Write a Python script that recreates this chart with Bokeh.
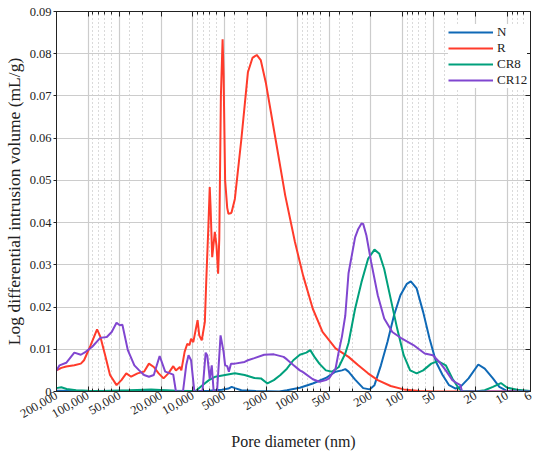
from bokeh.plotting import figure
from bokeh.models import (Range1d, FixedTicker, LogAxis, LinearAxis,
                          CustomJSTickFormatter, Legend, LegendItem)
from bokeh.embed import file_html
from bokeh.resources import INLINE

# ---------------- data ----------------
n_d = [200000, 100000, 20000, 10000, 7000, 5280, 4575, 4263, 3972, 3443, 2500, 1500,
       1266, 953, 717, 538, 435, 378, 351, 327, 283, 237, 206, 185, 160.5, 139, 120.5,
       104.6, 90.7, 83.2, 73.2, 63.4, 55.1, 47.8, 41.4, 35.9, 31.1, 28.0, 23.4, 18.9,
       16.4, 13.7, 11.9, 10.0, 8.0, 6.0]
n_v = [0.0002, 0.0001, 0.0002, 0.0001, 0.0002, 0.0004, 0.0007, 0.0011, 0.0008, 0.0003,
       0.0001, 0.0, 0.0003, 0.0009, 0.0019, 0.0032, 0.0047, 0.0050, 0.0053, 0.0047,
       0.0028, 0.0008, 0.0005, 0.0015, 0.0062, 0.0117, 0.0180, 0.0228, 0.0255, 0.0261,
       0.0244, 0.0188, 0.0125, 0.0070, 0.0039, 0.0015, 0.0007, 0.0011, 0.0031, 0.0064,
       0.0054, 0.0031, 0.0011, 0.0001, 0.0, 0.0]

r_d = [200000, 179800, 161500, 135200, 117200, 109200, 94600, 82000, 76400, 68680,
       61710, 53460, 48050, 43180, 38800, 33700, 29210, 26240, 23580, 21200, 19040,
       17120, 15380, 14500, 13300, 12880, 11980, 11300, 10760, 10400, 9900, 9347, 9012,
       8690, 8222, 7680, 7435, 7124, 6900, 6781, 6537, 6170, 5950, 5740, 5593, 5400,
       5201, 5091, 4920, 4700, 4575, 4350, 4263, 3972, 3443, 2983, 2700, 2457, 2250,
       2014, 1626, 1313, 1061, 888, 717, 579, 435, 327, 264, 213, 172, 129.6, 97.3,
       68.7, 50, 6]
r_v = [0.0050, 0.0056, 0.0059, 0.0062, 0.0066, 0.0074, 0.0109, 0.0147, 0.0130, 0.0086,
       0.0039, 0.0015, 0.0027, 0.0043, 0.0035, 0.0043, 0.0047, 0.0066, 0.0058, 0.0043,
       0.0031, 0.0043, 0.0060, 0.0050, 0.0058, 0.0050, 0.0094, 0.0113, 0.0110, 0.0125,
       0.0117, 0.0149, 0.0169, 0.0133, 0.0121, 0.0165, 0.0267, 0.0385, 0.0484, 0.0440,
       0.0318, 0.0378, 0.0346, 0.0279, 0.0362, 0.0700, 0.0834, 0.0750, 0.0500, 0.0435,
       0.0421, 0.0422, 0.0425, 0.0456, 0.0598, 0.0756, 0.0790, 0.0797, 0.0785, 0.0732,
       0.0598, 0.0464, 0.0354, 0.0275, 0.0196, 0.0141, 0.0102, 0.0082, 0.0062, 0.0043,
       0.0027, 0.0013, 0.0005, 0.0001, 0.0, 0.0]

cr8_d = [200000, 180000, 160000, 130000, 100000, 70000, 40000, 25000, 15000, 10000,
         9347, 8100, 7018, 6094, 4920, 3972, 3208, 2586, 2241, 1942, 1687, 1461, 1266,
         1100, 953, 826, 758, 691, 621, 538, 468, 405, 351, 327, 283, 246, 213, 185,
         166, 149.3, 129.6, 112.3, 97.3, 84.5, 73.2, 63.4, 53.1, 46.0, 38.6, 33.4, 29.0,
         27.0, 20.0, 16.4, 13.7, 11.5, 10.0, 8.04, 6.04]
cr8_v = [0.0008, 0.0010, 0.0006, 0.0003, 0.0002, 0.0001, 0.0003, 0.0005, 0.0002, 0.0001,
         0.0002, 0.0015, 0.0027, 0.0035, 0.0039, 0.0043, 0.0039, 0.0032, 0.0031, 0.0019,
         0.0027, 0.0039, 0.0054, 0.0074, 0.0087, 0.0092, 0.0098, 0.0082, 0.0066, 0.0050,
         0.0047, 0.0058, 0.0090, 0.0115, 0.0196, 0.0259, 0.0314, 0.0336, 0.0326, 0.0290,
         0.0220, 0.0149, 0.0086, 0.0050, 0.0043, 0.0050, 0.0066, 0.0072, 0.0062, 0.0031,
         0.0007, 0.0001, 0.0, 0.0003, 0.0011, 0.0020, 0.0009, 0.0004, 0.0001]

cr12_d = [200000, 187000, 161500, 135200, 117200, 105300, 91250, 76400, 66220, 59500,
          53460, 49830, 47030, 41730, 36150, 32500, 29210, 26240, 23580, 20740, 18360,
          16500, 15380, 14500, 12420, 11570, 11000, 10400, 9672, 8100, 7547, 7278, 6900,
          6600, 6330, 5876, 5440, 5091, 4920, 4700, 4530, 4327, 3972, 3208, 2983, 2586,
          2088, 1687, 1362, 1266, 1100, 953, 888, 717, 621, 538, 502, 435, 405, 378, 351,
          327, 283, 264, 246, 237, 221, 199, 172, 149.3, 125, 100.9, 78.6, 61.3, 51.2,
          44.5, 38.6, 33.4, 30.0, 28.0, 27.0, 6]
cr12_v = [0.0050, 0.0062, 0.0068, 0.0092, 0.0087, 0.0094, 0.0106, 0.0127, 0.0129, 0.0141,
          0.0163, 0.0157, 0.0158, 0.0098, 0.0062, 0.0050, 0.0039, 0.0035, 0.0039, 0.0084,
          0.0047, 0.0043, 0.0040, 0.0, 0.0, 0.0062, 0.0086, 0.0074, 0.0, 0.0, 0.0092,
          0.0085, 0.0030, 0.0062, 0.0, 0.0, 0.0133, 0.0094, 0.0062, 0.0060, 0.0047, 0.0066,
          0.0066, 0.0070, 0.0074, 0.0079, 0.0087, 0.0088, 0.0082, 0.0076, 0.0063, 0.0050,
          0.0046, 0.0029, 0.0023, 0.0027, 0.0031, 0.0054, 0.0095, 0.0130, 0.0180, 0.0280,
          0.0365, 0.0385, 0.0398, 0.0397, 0.0370, 0.0307, 0.0228, 0.0173, 0.0141, 0.0125,
          0.0110, 0.0090, 0.0086, 0.0070, 0.0050, 0.0027, 0.0019, 0.0015, 0.0, 0.0]

x_major = [200000, 100000, 50000, 20000, 10000, 5000, 2000, 1000, 500, 200, 100, 50, 20, 10, 6]
y_major = [0, 0.01, 0.02, 0.03, 0.04, 0.05, 0.06, 0.07, 0.08, 0.09]

series_names = ["N", "R", "CR8", "CR12"]
series_colors = ["#0f69b6", "#ff3b2b", "#00a07c", "#8046d0"]

# ---------------- figure ----------------
FONT = "Liberation Serif"
x_minor = sorted(k * 10 ** e for e in range(0, 6) for k in range(1, 10)
                 if 6 <= k * 10 ** e <= 200000 and k * 10 ** e not in x_major)

p = figure(width=534, height=452, x_axis_type="log",
           x_range=Range1d(200000, 6), y_range=Range1d(0, 0.09),
           output_backend="svg", toolbar_location=None,
           min_border_left=42, min_border_right=4, min_border_top=11, min_border_bottom=59)
p.background_fill_color = "white"
p.border_fill_color = "white"
p.outline_line_color = "#222222"

xt = FixedTicker(ticks=x_major, minor_ticks=x_minor)
yt = FixedTicker(ticks=y_major)

xfmt = CustomJSTickFormatter(code="""
const big = {200000:'200,000', 100000:'100,000', 50000:'50,000', 20000:'20,000', 10000:'10,000'};
return (tick in big) ? big[tick] : String(tick);
""")
yfmt = CustomJSTickFormatter(code="return tick === 0 ? '0' : tick.toFixed(2);")
blank = CustomJSTickFormatter(code="return '';")

def style_axis(ax):
    ax.axis_line_color = "#222222"
    ax.major_tick_line_color = "#222222"
    ax.minor_tick_line_color = "#222222"
    ax.major_tick_in = 5
    ax.major_tick_out = 0
    ax.minor_tick_in = 3
    ax.minor_tick_out = 0
    ax.major_label_text_font = FONT
    ax.major_label_text_font_size = "12.5px"
    ax.major_label_text_color = "#222222"
    ax.axis_label_text_font = FONT
    ax.axis_label_text_font_size = "16px"
    ax.axis_label_text_font_style = "normal"
    ax.axis_label_text_color = "#222222"

xa = p.xaxis[0]
xa.ticker = xt
xa.formatter = xfmt
xa.axis_label = "Pore diameter (nm)"
xa.major_label_orientation = 0.52
style_axis(xa)
xa.major_label_standoff = 3
xa.axis_label_standoff = 8

ya = p.yaxis[0]
ya.ticker = yt
ya.formatter = yfmt
ya.axis_label = "Log differential intrusion volume (mL/g)"
style_axis(ya)
ya.axis_label_text_font_size = "17.5px"
ya.major_tick_in = 0
ya.major_tick_out = 3
ya.minor_tick_in = 0
ya.major_label_standoff = 2
ya.axis_label_standoff = 3

top = LogAxis(ticker=xt, formatter=blank)
style_axis(top)
top.major_label_text_font_size = "0px"
top.major_label_standoff = 0
p.add_layout(top, "above")

right = LinearAxis(ticker=yt, formatter=blank)
style_axis(right)
right.minor_tick_in = 0
right.major_label_text_font_size = "0px"
right.major_label_standoff = 0
p.add_layout(right, "right")

p.xgrid.ticker = xt
p.ygrid.ticker = yt
p.xgrid.grid_line_color = "#cccccc"
p.xgrid.grid_line_width = 1.2
p.xgrid.minor_grid_line_color = "#b5b5b5"
p.xgrid.minor_grid_line_dash = "1 3"
p.xgrid.minor_grid_line_width = 1
p.ygrid.grid_line_color = "#cccccc"
p.ygrid.grid_line_width = 1.2

data = [(n_d, n_v), (r_d, r_v), (cr8_d, cr8_v), (cr12_d, cr12_v)]
items = []
for (d, v), name, col in zip(data, series_names, series_colors):
    r = p.line(d, v, line_color=col, line_width=2)
    items.append(LegendItem(label=name, renderers=[r]))

leg = Legend(items=items, location=(392, 303))
leg.border_line_color = None
leg.background_fill_color = "white"
leg.background_fill_alpha = 1.0
leg.margin = 0
leg.padding = 3
leg.spacing = -1
leg.glyph_width = 45
leg.glyph_height = 14
leg.label_height = 14
leg.label_standoff = 4
leg.label_text_font = FONT
leg.label_text_font_size = "13px"
leg.label_text_color = "#222222"
p.add_layout(leg)

open("out.html", "w").write(file_html(p, INLINE))
